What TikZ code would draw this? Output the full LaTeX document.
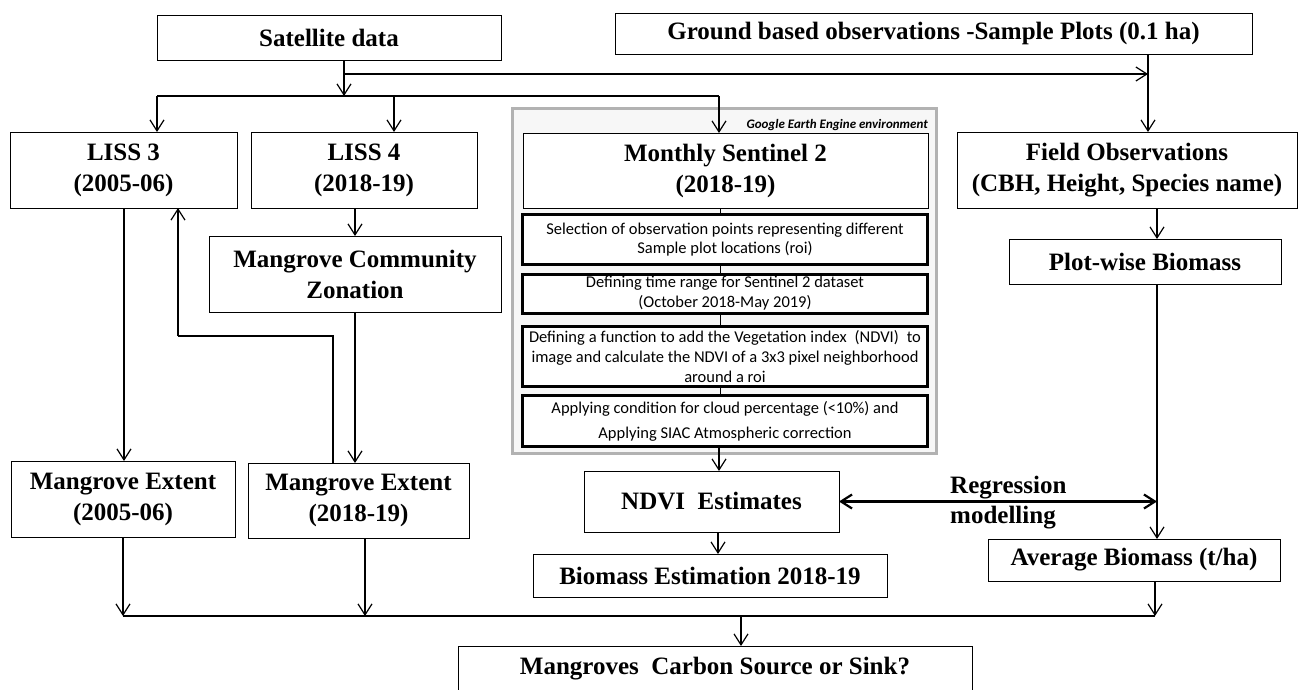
\documentclass[tikz,border=0pt]{standalone}
\usepackage{fontspec}
\setmainfont{Liberation Serif}
\newfontfamily\calfont{Carlito}
\usetikzlibrary{arrows.meta}
\begin{document}
\begin{tikzpicture}[x=1pt,y=-1pt,
  box/.style={draw, line width=0.9pt, fill=white, inner sep=0pt, outer sep=0pt, align=center,
    font=\fontsize{25}{31}\selectfont\bfseries},
  sub/.style={draw, line width=2.4pt, fill=white, inner sep=0pt, outer sep=0pt, align=center,
    font=\calfont\fontsize{16.5}{18.5}\selectfont},
  gee/.style={draw=gray!60, line width=3pt, fill=gray!6, inner sep=0pt},
  arr/.style={line width=1.2pt, -{Straight Barb[length=11pt,width=14pt]}},
  ln/.style={line width=1.2pt},
  thinln/.style={line width=0.9pt},
  dbl/.style={line width=2.2pt, {Straight Barb[length=11pt,width=14pt]}-{Straight Barb[length=11pt,width=14pt]}},
  lbl/.style={inner sep=0pt, align=left, font=\fontsize{25}{30}\selectfont\bfseries},
  geelbl/.style={inner sep=0pt, font=\calfont\fontsize{13}{15}\selectfont\bfseries\itshape}]
\useasboundingbox (0,0) rectangle (1299,689);

% GEE environment frame
\node[gee, minimum width=424pt, minimum height=345pt] (geebox) at (724.5,281) {};
\node[geelbl, anchor=base east] (geetxt) at (928,128) {Google Earth Engine environment};

% main boxes
\node[box, minimum width=344pt, minimum height=45pt] (sat) at (329,37.5) {Satellite data};
\node[box, minimum width=637pt, minimum height=41pt] (ground) at (933.5,33.5) {Ground based observations -Sample Plots (0.1 ha)};
\node[box, minimum width=227pt, minimum height=76pt] (liss3) at (123.5,170) {LISS 3\\(2005-06)};
\node[box, minimum width=226pt, minimum height=76pt] (liss4) at (364,170) {LISS 4\\(2018-19)};
\node[box, minimum width=405pt, minimum height=75pt] (sent) at (725.5,170.5) {Monthly Sentinel 2\\(2018-19)};
\node[box, minimum width=340pt, minimum height=76pt] (field) at (1127,170) {Field Observations\\(CBH, Height, Species name)};
\node[box, minimum width=292pt, minimum height=76pt] (mcz) at (355,274) {Mangrove Community\\Zonation};
\node[box, minimum width=272pt, minimum height=45pt] (plot) at (1145,261.5) {Plot-wise Biomass};

% GEE steps
\node[sub, minimum width=405pt, minimum height=50pt] (s1) at (725,239.5)
  {Selection of observation points representing different\\Sample plot locations (roi)};
\node[sub, minimum width=405pt, minimum height=39pt] (s2) at (725,294)
  {\raisebox{-3pt}{\begin{tabular}{@{}c@{}}Defining time range for Sentinel 2 dataset\\[1.5pt](October 2018-May 2019)\end{tabular}}};
\node[sub, minimum width=405pt, minimum height=60pt, font=\calfont\fontsize{16.5}{20}\selectfont] (s3) at (725,356.5)
  {\makebox[392pt][s]{Defining a function to add the Vegetation index \ (NDVI) \ to}\\
   \makebox[387pt][s]{image and calculate the NDVI of a 3x3 pixel neighborhood}\\around a roi};
\node[sub, minimum width=405pt, minimum height=51pt, font=\calfont\fontsize{16.5}{25}\selectfont] (s4) at (725,421)
  {Applying condition for cloud percentage (<10\%) and\\Applying SIAC Atmospheric correction};

\node[box, minimum width=224pt, minimum height=76pt] (me1) at (123,499) {Mangrove Extent\\(2005-06)};
\node[box, minimum width=221pt, minimum height=75pt] (me2) at (358.5,500.5) {Mangrove Extent\\(2018-19)};
\node[box, minimum width=255pt, minimum height=61pt] (ndvi) at (711.5,501.5) {NDVI \ Estimates};
\node[box, minimum width=354pt, minimum height=43pt] (bioest) at (710,575.5) {Biomass Estimation 2018-19};
\node[box, minimum width=292pt, minimum height=42pt] (avg) at (1134,560) {Average Biomass (t/ha)};
\node[box, minimum width=514pt, minimum height=46pt] (carbon) at (715,669) {Mangroves \ Carbon Source or Sink?};
\node[lbl, anchor=west] (reg) at (950,503) {Regression\\modelling};

% junction coordinates
\coordinate (satdown) at (344,96);
\coordinate (topline) at (344,74);
\coordinate (gvert) at (1148,74);
\coordinate (bl) at (157,96);
\coordinate (br) at (719,96);
\coordinate (l4) at (394,96);
\coordinate (loopa) at (333,336);
\coordinate (loopb) at (178,336);
\coordinate (rv) at (1157,0);
\coordinate (botl) at (123,616);
\coordinate (botr) at (1155,616);
\coordinate (botc) at (741,616);

% top connectors
\draw[arr] (satdown |- sat.south) -- (satdown);
\draw[arr] (topline) -- (gvert);
\draw[arr] (gvert |- ground.south) -- (gvert |- field.north);
\draw[ln] (bl) -- (br);
\draw[arr] (bl) -- (bl |- liss3.north);
\draw[arr] (l4) -- (l4 |- liss4.north);
\draw[arr] (br) -- (br |- sent.north);

% left column
\draw[arr] (mcz.north |- liss4.south) -- (mcz.north);
\draw[arr] (124,208) -- (me1.north -| 124,0);
\draw[arr] (mcz.south) -- (mcz.south |- me2.north);
\draw[ln] (loopa |- me2.north) -- (loopa) -- (loopb);
\draw[arr] (loopb) -- (loopb |- liss3.south);

% GEE chain
\draw[thinln] (720,208) -- (720,213);
\draw[thinln] (s1.south -| 720,0) -- (s2.north -| 720,0);
\draw[thinln] (s2.south -| 720,0) -- (s3.north -| 720,0);
\draw[thinln] (s3.south -| 720,0) -- (s4.north -| 720,0);
\draw[arr] (s4.south -| 719,0) -- (ndvi.north -| 719,0);
\draw[arr] (ndvi.south -| 718,0) -- (bioest.north -| 718,0);

% right column
\draw[arr] (rv |- field.south) -- (rv |- plot.north);
\draw[arr] (rv |- plot.south) -- (rv |- avg.north);
\draw[dbl] (ndvi.east) -- (rv |- ndvi.east);

% bottom collection
\draw[arr] (botl |- me1.south) -- (botl);
\draw[arr] (me2.south -| 365,0) -- (365,616);
\draw[arr] (botr |- avg.south) -- (botr);
\draw[ln] (botl) -- (botr);
\draw[arr] (botc) -- (botc |- carbon.north);
\end{tikzpicture}
\end{document}
